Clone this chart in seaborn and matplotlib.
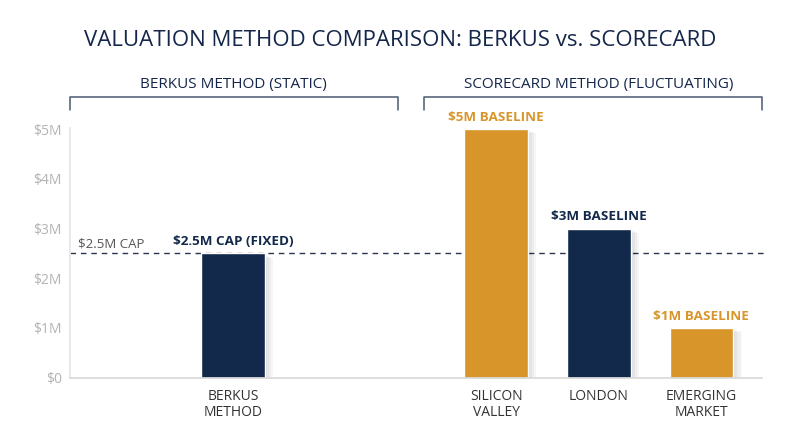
import numpy as np
import pandas as pd
import seaborn as sns
import matplotlib.pyplot as plt
import matplotlib.patheffects as pe
from matplotlib.ticker import FuncFormatter

# data
categories = ["BERKUS\nMETHOD", "SILICON\nVALLEY", "LONDON", "EMERGING\nMARKET"]
values_m = [2.5, 5.0, 3.0, 1.0]
bar_labels = ["$2.5M CAP (FIXED)", "$5M BASELINE", "$3M BASELINE", "$1M BASELINE"]
groups = ["BERKUS METHOD (STATIC)", "SCORECARD METHOD (FLUCTUATING)"]
cap_value = 2.5
y_ticks = [0, 1, 2, 3, 4, 5]

NAVY = "#13294b"
GOLD = "#d8952a"
bar_colors = [NAVY, GOLD, NAVY, GOLD]

# layout: berkus bar stands apart from the three scorecard bars
positions = [0, 2.56, 3.56, 4.56]

sns.set_theme(style="white")
plt.rcParams["font.family"] = ["Open Sans", "DejaVu Sans"]

df = pd.DataFrame({"pos": positions, "value": values_m, "cat": categories})

fig = plt.figure(figsize=(8, 4.47), dpi=100)
ax = fig.add_axes([70 / 800, 69.3 / 447, 692 / 800, 249.5 / 447])

sns.barplot(data=df, x="pos", y="value", hue="cat", palette=bar_colors,
            native_scale=True, orient="x", width=0.62, legend=False,
            saturation=1, ax=ax)

ax.set_xlim(-1.59, 5.15)
ax.set_ylim(0, 5.02)

# soft shadow to the right of each bar
shadow = [pe.SimplePatchShadow(offset=(o, -o / 2), shadow_rgbFace="#000000", alpha=0.035)
          for o in (6, 4.5, 3, 1.5)] + [pe.Normal()]
for patch in ax.patches:
    patch.set_path_effects(shadow)

for p, v, lab, col in zip(positions, values_m, bar_labels, bar_colors):
    ax.text(p, v + 0.24, lab, ha="center", va="center", fontsize=9.7,
            fontweight="bold", color=col, clip_on=False)

# dashed cap line
ax.axhline(cap_value, color="#2a3550", lw=1.0, ls=(0, (4, 3.5)), zorder=0.5,
           xmax=(5.18 + 1.59) / 6.74, clip_on=False)
ax.text(-1.51, cap_value + 0.2, "$2.5M CAP", ha="left", va="center",
        fontsize=9.5, color="#555555")

# axes styling
ax.set_xticks(positions)
ax.set_xticklabels(categories, fontsize=10, color="#333333", linespacing=1.15)
ax.tick_params(axis="x", length=0, pad=8)
ax.set_yticks(y_ticks)
ax.yaxis.set_major_formatter(FuncFormatter(lambda v, _: "$0" if v == 0 else f"${v:.0f}M"))
ax.tick_params(axis="y", direction="in", length=6, color="#e3e3e3", labelsize=10,
               labelcolor="#b3b3b3", pad=6)
ax.set_xlabel("")
ax.set_ylabel("")
for s in ["top", "right"]:
    ax.spines[s].set_visible(False)
ax.spines["left"].set_color("#e6e6e6")
ax.spines["bottom"].set_color("#d9d9d9")

# group brackets above the bars
bracket_spans = [(-1.59, 1.60), (1.857, 5.15)]
label_x = [0, 3.56]
for (x0, x1), name, lx in zip(bracket_spans, groups, label_x):
    ax.plot([x0, x0, x1, x1], [5.39, 5.655, 5.655, 5.39], color="#4a5a72",
            lw=1.1, clip_on=False)
    ax.text(lx, 5.9, name, ha="center", va="center", fontsize=11,
            color="#14264a", clip_on=False)

fig.text(0.5, 1 - 41 / 447, "VALUATION METHOD COMPARISON: BERKUS vs. SCORECARD",
         ha="center", va="center", fontsize=16, color="#14264a")

fig.savefig("out.png", dpi=100)
